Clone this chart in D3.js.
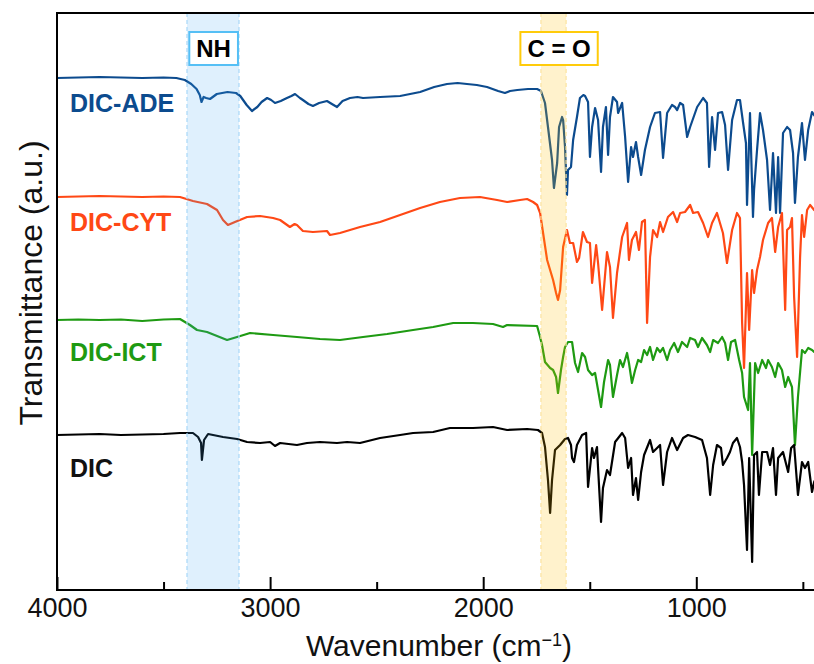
<!DOCTYPE html>
<html>
<head>
<meta charset="utf-8">
<script src="https://cdn.jsdelivr.net/npm/d3@7/dist/d3.min.js"></script>
<style>
  html, body { margin: 0; padding: 0; background: #fff; }
  svg { display: block; font-family: "Liberation Sans", Arial, sans-serif; }
</style>
</head>
<body>
<svg id="chart" width="814" height="664"></svg>
<script>
// FTIR spectra, [wavenumber (cm-1), transmittance (a.u., stacked offsets)]
const seriesNames = ["DIC-ADE", "DIC-CYT", "DIC-ICT", "DIC"];
const seriesColors = ["#0c4b8e", "#ff4815", "#1e9a12", "#000000"];

const dicADE = [
  [4000, 51.2], [3900, 51.25], [3800, 51.3], [3700, 51.25], [3600, 51.2], [3500, 51.25], [3440, 51.2],
  [3400, 51.0], [3370, 50.6], [3345, 50.1], [3330, 49.5], [3322, 48.8], [3312, 49.3], [3300, 49.2],
  [3282, 49.1], [3250, 49.6], [3200, 49.8], [3160, 49.7], [3140, 49.4], [3110, 48.5], [3085, 47.9],
  [3060, 48.3], [3040, 48.8], [3014, 49.2], [2995, 49.0], [2977, 48.7], [2950, 48.9], [2921, 49.2],
  [2900, 49.4], [2883, 49.6], [2860, 49.2], [2846, 49.0], [2820, 48.6], [2799, 48.4], [2770, 48.7],
  [2733, 48.9], [2710, 48.6], [2686, 48.3], [2660, 48.9], [2625, 49.2], [2590, 49.3], [2564, 49.2],
  [2484, 49.3], [2390, 49.4], [2296, 49.8], [2230, 50.3], [2170, 50.6], [2120, 50.7], [2076, 50.6],
  [2030, 50.5], [1982, 50.3], [1930, 49.9], [1898, 49.7], [1874, 49.9], [1840, 50.0], [1790, 50.1],
  [1747, 50.1], [1729, 49.9], [1710, 48.7], [1696, 46.3], [1677, 43.0], [1668, 40.2], [1653, 42.7],
  [1644, 46.3], [1630, 47.3], [1625, 47.0], [1616, 44.3], [1607, 39.5], [1602, 42.0], [1588, 42.3],
  [1578, 45.0], [1560, 47.3], [1546, 49.2], [1530, 49.5], [1522, 49.4], [1508, 48.8], [1499, 43.3],
  [1489, 46.3], [1475, 48.2], [1461, 47.0], [1447, 41.8], [1438, 46.3], [1424, 48.3], [1414, 43.5],
  [1405, 47.3], [1391, 49.3], [1372, 48.8], [1367, 47.7], [1348, 48.7], [1334, 45.3], [1320, 40.8],
  [1306, 44.3], [1297, 43.3], [1283, 44.8], [1273, 43.3], [1259, 41.5], [1241, 44.0], [1217, 46.3],
  [1194, 47.7], [1170, 47.8], [1156, 43.2], [1137, 47.7], [1114, 48.5], [1100, 48.3], [1090, 48.0],
  [1076, 48.7], [1062, 48.5], [1043, 45.3], [1029, 46.3], [996, 48.3], [968, 49.2], [950, 48.7],
  [940, 42.3], [926, 47.3], [912, 44.0], [898, 47.7], [879, 47.8], [865, 46.5], [851, 42.0],
  [832, 47.0], [809, 49.0], [795, 49.0], [781, 46.8], [767, 44.7], [762, 38.5], [748, 47.7],
  [734, 37.3], [729, 40.0], [715, 44.0], [701, 47.7], [687, 46.0], [668, 43.0], [654, 38.0],
  [640, 43.7], [626, 37.7], [616, 43.3], [607, 37.7], [593, 45.7], [574, 46.3], [560, 46.0],
  [546, 43.7], [537, 38.7], [523, 43.3], [504, 46.7], [490, 43.0], [475, 46.0], [457, 47.8],
  [447, 47.5], [430, 47.0], [400, 46.8]
];

const dicCYT = [
  [4000, 39.3], [3900, 39.35], [3800, 39.4], [3700, 39.35], [3600, 39.3], [3500, 39.35], [3423, 39.3],
  [3362, 38.9], [3296, 38.6], [3249, 38.0], [3221, 37.0], [3198, 36.5], [3165, 36.8], [3108, 37.3],
  [3047, 37.4], [2986, 37.2], [2953, 37.0], [2907, 36.3], [2885, 36.6], [2874, 36.5], [2846, 35.9],
  [2799, 35.8], [2733, 35.9], [2719, 35.5], [2672, 35.7], [2578, 36.3], [2484, 36.8], [2390, 37.5],
  [2296, 38.2], [2203, 38.8], [2109, 39.2], [2015, 39.3], [1935, 39.0], [1888, 38.8], [1827, 39.0],
  [1794, 39.1], [1766, 38.8], [1747, 38.5], [1733, 37.7], [1719, 35.7], [1700, 33.0], [1686, 32.0],
  [1672, 31.0], [1658, 29.7], [1649, 29.0], [1639, 30.0], [1625, 34.3], [1607, 36.0], [1593, 34.7],
  [1578, 34.7], [1560, 32.8], [1550, 33.2], [1532, 35.8], [1513, 34.8], [1499, 34.7], [1489, 30.7],
  [1470, 34.5], [1461, 32.7], [1442, 28.0], [1419, 33.8], [1405, 32.3], [1391, 27.2], [1372, 31.7],
  [1348, 35.3], [1325, 36.7], [1316, 33.0], [1302, 35.0], [1283, 35.8], [1269, 34.0], [1255, 36.8],
  [1241, 37.0], [1231, 26.7], [1217, 33.3], [1203, 36.0], [1184, 35.3], [1170, 36.8], [1156, 35.8],
  [1133, 37.3], [1109, 37.8], [1090, 36.8], [1076, 37.7], [1053, 37.8], [1029, 38.5], [1015, 37.7],
  [992, 37.8], [968, 36.7], [945, 35.3], [926, 36.7], [903, 37.7], [889, 36.7], [875, 35.7],
  [856, 32.7], [832, 36.0], [809, 37.7], [795, 37.2], [785, 26.7], [776, 22.2], [762, 31.7],
  [752, 26.0], [738, 32.0], [729, 29.7], [715, 32.0], [701, 33.3], [687, 35.0], [663, 36.7],
  [645, 37.2], [630, 33.8], [616, 36.3], [598, 37.7], [583, 28.0], [574, 36.0], [560, 36.3],
  [551, 37.2], [541, 29.3], [527, 23.3], [513, 33.3], [504, 37.5], [494, 35.3], [480, 38.0],
  [466, 38.5], [447, 38.0], [420, 37.6], [400, 37.8]
];

const dicICT = [
  [4000, 27.0], [3900, 27.05], [3800, 27.0], [3700, 27.05], [3600, 26.9], [3500, 27.05], [3423, 27.1],
  [3376, 26.5], [3343, 26.0], [3296, 25.8], [3249, 25.4], [3202, 25.0], [3155, 25.3], [3094, 25.7],
  [2986, 25.5], [2874, 25.3], [2766, 25.1], [2672, 25.0], [2564, 25.3], [2451, 25.6], [2329, 26.0],
  [2235, 26.3], [2141, 26.7], [2048, 26.7], [1954, 26.6], [1907, 26.3], [1888, 26.5], [1747, 26.4],
  [1733, 25.3], [1724, 24.5], [1710, 22.8], [1686, 22.2], [1672, 22.0], [1658, 21.3], [1649, 19.7],
  [1635, 22.0], [1625, 23.3], [1616, 24.3], [1602, 24.8], [1583, 24.8], [1569, 22.7], [1555, 21.8],
  [1536, 23.7], [1522, 23.3], [1508, 22.0], [1489, 21.5], [1475, 21.7], [1461, 20.0], [1447, 18.3],
  [1433, 20.8], [1414, 23.0], [1405, 22.5], [1391, 19.3], [1372, 21.5], [1358, 23.0], [1344, 22.3],
  [1325, 23.7], [1316, 22.7], [1302, 20.7], [1287, 22.0], [1273, 23.0], [1259, 22.8], [1245, 24.0],
  [1231, 23.5], [1217, 24.3], [1203, 23.0], [1184, 24.2], [1170, 23.8], [1156, 24.2], [1137, 23.0],
  [1123, 24.0], [1104, 24.7], [1086, 23.8], [1067, 24.8], [1043, 24.3], [1029, 25.2], [1006, 25.0],
  [992, 24.3], [973, 25.2], [950, 24.5], [935, 23.8], [921, 25.0], [898, 24.7], [879, 25.3],
  [865, 24.7], [851, 23.0], [837, 24.8], [818, 25.0], [799, 23.0], [785, 21.7], [776, 19.3],
  [757, 18.0], [748, 22.7], [738, 13.5], [724, 22.7], [710, 21.7], [691, 23.0], [673, 22.2],
  [663, 23.0], [645, 22.3], [630, 21.3], [616, 22.7], [598, 22.0], [583, 20.3], [569, 21.3],
  [551, 20.3], [546, 18.3], [537, 14.5], [523, 19.3], [504, 24.0], [490, 23.7], [475, 24.2],
  [457, 24.0], [447, 23.8], [420, 24.0], [400, 23.9]
];

const dicPure = [
  [4000, 15.5], [3900, 15.55], [3800, 15.6], [3700, 15.5], [3600, 15.55], [3500, 15.6], [3423, 15.7],
  [3362, 15.7], [3338, 15.3], [3324, 14.7], [3320, 13.0], [3310, 15.0], [3291, 15.6], [3221, 15.3],
  [3155, 15.1], [3108, 14.8], [3047, 14.7], [3000, 14.8], [2977, 14.4], [2953, 14.7], [2874, 14.5],
  [2827, 14.7], [2766, 14.8], [2686, 14.7], [2639, 14.8], [2578, 14.7], [2484, 15.2], [2390, 15.5],
  [2329, 15.7], [2235, 15.8], [2156, 16.2], [2048, 16.2], [1954, 16.3], [1888, 16.0], [1794, 16.1],
  [1743, 16.0], [1724, 15.7], [1710, 14.3], [1696, 11.0], [1686, 7.7], [1677, 11.0], [1663, 14.0],
  [1639, 14.5], [1616, 15.1], [1602, 15.2], [1588, 14.5], [1583, 13.2], [1574, 12.8], [1560, 14.5],
  [1536, 15.5], [1517, 15.7], [1508, 10.3], [1489, 14.2], [1480, 13.2], [1466, 14.3], [1461, 12.2],
  [1447, 6.8], [1438, 10.2], [1419, 12.0], [1405, 11.5], [1381, 14.8], [1348, 15.7], [1334, 15.2],
  [1320, 12.2], [1306, 13.2], [1297, 9.5], [1283, 11.2], [1273, 9.0], [1259, 11.8], [1245, 13.5],
  [1217, 15.0], [1203, 13.8], [1184, 14.2], [1170, 14.5], [1156, 10.5], [1137, 13.8], [1114, 15.2],
  [1090, 14.0], [1062, 15.2], [1039, 15.5], [1006, 15.3], [973, 15.0], [950, 13.2], [935, 9.5],
  [921, 12.5], [903, 14.5], [884, 14.2], [875, 12.5], [856, 13.2], [842, 13.8], [828, 14.7],
  [809, 15.2], [795, 14.3], [785, 12.8], [776, 10.5], [762, 4.0], [752, 13.2], [738, 2.8],
  [729, 13.5], [715, 13.8], [706, 9.5], [691, 13.8], [668, 13.8], [654, 12.5], [640, 14.2],
  [626, 9.5], [616, 13.2], [593, 13.8], [569, 11.8], [555, 14.2], [541, 14.5], [523, 9.5],
  [504, 12.8], [490, 12.2], [475, 12.8], [457, 9.8], [447, 10.8], [420, 12.0], [400, 12.5]
];

const seriesData = [dicADE, dicCYT, dicICT, dicPure];
// vertical position (text baseline) of each series label, in the same a.u. units
const labelLevels = [47.8, 35.9, 22.9, 11.3];

// highlighted absorption bands: [high wavenumber, low wavenumber]
const bandNames = ["NH", "C = O"];
const bandRanges = [[3390, 3146], [1729, 1611]];
const bandLabelCenters = [3265, 1644];
const bandFills = ["#3fa9f5", "#ffc000"];
const bandEdges = ["#a9d8f8", "#fbe3a0"];
const bandBoxColors = ["#55bff5", "#ffcb0a"];

const majorTicks = [4000, 3000, 2000, 1000];
const minorTicks = [3500, 2500, 1500, 500];

const svg = d3.select("#chart");
const plotLeft = 57, plotTop = 13, plotBottom = 590;
const x = d3.scaleLinear().domain([4000, 400]).range([plotLeft, plotLeft + 3600 * 0.2131]);
const y = d3.scaleLinear().domain([0, 57.7]).range([plotBottom, plotTop]);

svg.append("defs").append("clipPath").attr("id", "plotClip")
  .append("rect").attr("x", plotLeft).attr("y", plotTop)
  .attr("width", x(400) - plotLeft).attr("height", plotBottom - plotTop);

const plot = svg.append("g").attr("clip-path", "url(#plotClip)");

// spectra
const line = d3.line().x(d => x(d[0])).y(d => y(d[1]));
seriesData.forEach((data, i) => {
  plot.append("path")
    .datum(data)
    .attr("d", line)
    .attr("fill", "none")
    .attr("stroke", seriesColors[i])
    .attr("stroke-width", 2.2)
    .attr("stroke-linejoin", "round");
});

// translucent bands laid over the spectra
bandRanges.forEach((r, i) => {
  const x0 = x(r[0]), x1 = x(r[1]);
  plot.append("rect")
    .attr("x", x0).attr("y", plotTop).attr("width", x1 - x0).attr("height", plotBottom - plotTop)
    .attr("fill", bandFills[i]).attr("fill-opacity", i === 0 ? 0.17 : 0.2);
  [x0, x1].forEach(xe => {
    plot.append("line")
      .attr("x1", xe).attr("x2", xe).attr("y1", plotTop).attr("y2", plotBottom)
      .attr("stroke", bandEdges[i]).attr("stroke-width", 1.2)
      .attr("stroke-dasharray", "4,3");
  });
});

// band labels in boxes
bandNames.forEach((name, i) => {
  const cx = x(bandLabelCenters[i]);
  const t = svg.append("text")
    .attr("x", cx).attr("y", 57)
    .attr("text-anchor", "middle")
    .attr("font-size", 24).attr("font-weight", "bold").attr("fill", "#000")
    .text(name);
  const bb = t.node().getBBox();
  svg.insert("rect", () => t.node())
    .attr("x", bb.x - 7).attr("y", 32)
    .attr("width", bb.width + 14).attr("height", 33)
    .attr("fill", "#fff")
    .attr("stroke", bandBoxColors[i]).attr("stroke-width", 2);
});

// series labels
seriesNames.forEach((name, i) => {
  svg.append("text")
    .attr("x", 70).attr("y", y(labelLevels[i]))
    .attr("font-size", 25).attr("font-weight", "bold")
    .attr("fill", seriesColors[i] === "#000000" ? "#111" : seriesColors[i])
    .text(name);
});

// axes
const axisMajor = d3.axisBottom(x).tickValues(majorTicks).tickFormat(d3.format("d"))
  .tickSizeInner(-13).tickSizeOuter(0).tickPadding(8);
const axisMinor = d3.axisBottom(x).tickValues(minorTicks).tickSizeInner(-8).tickSizeOuter(0).tickFormat("");

const gx = svg.append("g").attr("transform", `translate(0,${plotBottom})`).call(axisMajor);
gx.select(".domain").remove();
gx.selectAll(".tick line").attr("stroke", "#000").attr("stroke-width", 2);
gx.selectAll(".tick text").attr("font-size", 27).attr("fill", "#111")
  .attr("font-family", "'Liberation Sans', Arial, sans-serif");

const gm = svg.append("g").attr("transform", `translate(0,${plotBottom})`).call(axisMinor);
gm.select(".domain").remove();
gm.selectAll(".tick line").attr("stroke", "#000").attr("stroke-width", 2);

// frame
svg.append("rect")
  .attr("x", plotLeft).attr("y", plotTop)
  .attr("width", x(400) - plotLeft).attr("height", plotBottom - plotTop)
  .attr("fill", "none").attr("stroke", "#000").attr("stroke-width", 2);

// axis titles
const xt = svg.append("text")
  .attr("x", 439).attr("y", 656)
  .attr("text-anchor", "middle")
  .attr("font-size", 30).attr("fill", "#111");
xt.append("tspan").text("Wavenumber (cm");
xt.append("tspan").attr("baseline-shift", "super").attr("font-size", 18).text("\u22121");
xt.append("tspan").text(")");

svg.append("text")
  .attr("transform", "translate(42,283) rotate(-90)")
  .attr("text-anchor", "middle")
  .attr("font-size", 32).attr("fill", "#111")
  .text("Transmittance (a.u.)");
</script>
</body>
</html>
